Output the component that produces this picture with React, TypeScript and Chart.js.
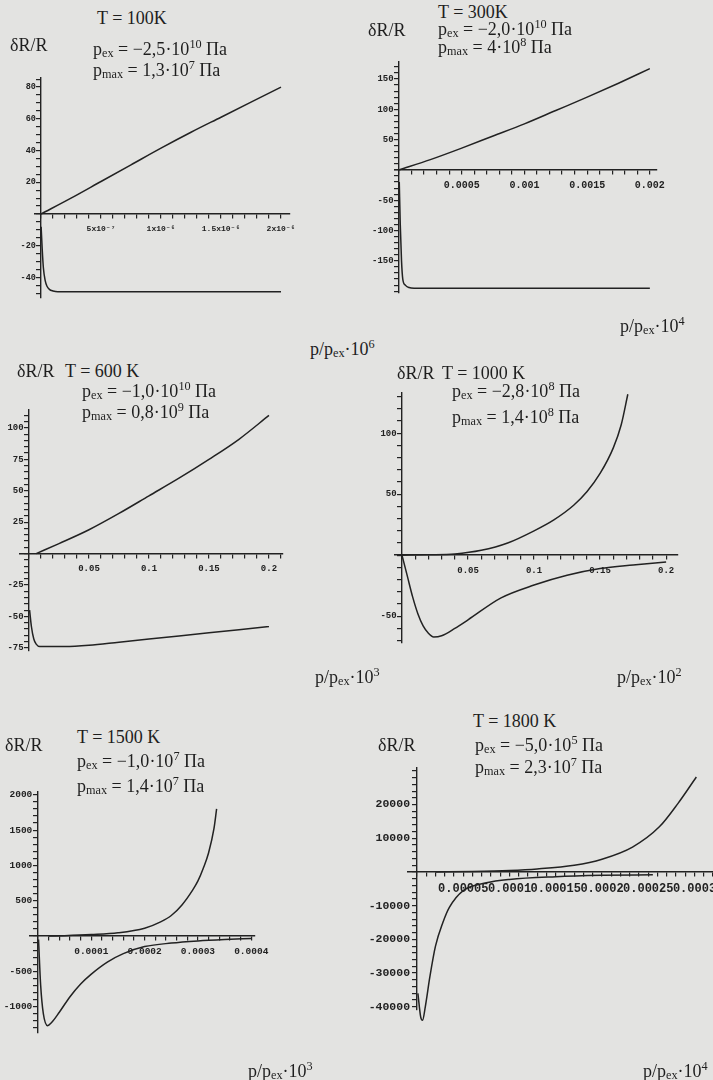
import React, { useEffect, useRef } from "react";
import { Chart, registerables } from "chart.js";

Chart.register(...registerables);

// ================= DATA =================
// Panel 1: T = 100 K
const p1UpperX = [0, 2.5e-7, 5e-7, 7.5e-7, 1e-6, 1.25e-6, 1.5e-6, 1.75e-6, 2e-6];
const p1UpperY = [0, 10, 20.5, 31, 41.5, 51.5, 61, 70.5, 80];
const p1LowerX = [1e-9, 1e-8, 2e-8, 3.5e-8, 5e-8, 7e-8, 1e-7, 1.4e-7, 5e-7, 1e-6, 1.5e-6, 2e-6];
const p1LowerY = [-8, -22, -34, -42, -45.5, -47.5, -48.5, -49, -49, -49, -49, -49];
const p1XTicks = [5e-7, 1e-6, 1.5e-6, 2e-6];
const p1XTickLabels = ["5x10⁻⁷", "1x10⁻⁶", "1.5x10⁻⁶", "2x10⁻⁶"];
const p1YTicks = [-40, -20, 20, 40, 60, 80];
const p1YTickLabels = ["-40", "-20", "20", "40", "60", "80"];

// Panel 2: T = 300 K
const p2UpperX = [0, 0.00025, 0.0005, 0.00075, 0.001, 0.00125, 0.0015, 0.00175, 0.002];
const p2UpperY = [0, 17, 36, 56, 76, 98, 120, 143, 167];
const p2LowerX = [2e-6, 1e-5, 2e-5, 3e-5, 5e-5, 8e-5, 0.00012, 0.0005, 0.001, 0.0015, 0.002];
const p2LowerY = [-20, -90, -150, -180, -190, -194, -195, -195, -195, -195, -195];
const p2XTicks = [0.0005, 0.001, 0.0015, 0.002];
const p2XTickLabels = ["0.0005", "0.001", "0.0015", "0.002"];
const p2YTicks = [-150, -100, -50, 50, 100, 150];
const p2YTickLabels = ["-150", "-100", "-50", "50", "100", "150"];

// Panel 3: T = 600 K
const p3UpperX = [0.006, 0.025, 0.05, 0.075, 0.1, 0.125, 0.15, 0.175, 0.2];
const p3UpperY = [0, 8, 19, 32, 46, 60, 75, 91, 110];
const p3LowerX = [0.0005, 0.002, 0.004, 0.006, 0.009, 0.015, 0.03, 0.05, 0.075, 0.1, 0.125, 0.15, 0.175, 0.2];
const p3LowerY = [-45, -58, -68, -72, -74, -74, -74, -73, -70.5, -68, -65.5, -63, -60.5, -58];
const p3XTicks = [0.05, 0.1, 0.15, 0.2];
const p3XTickLabels = ["0.05", "0.1", "0.15", "0.2"];
const p3YTicks = [-75, -50, -25, 25, 50, 75, 100];
const p3YTickLabels = ["-75", "-50", "-25", "25", "50", "75", "100"];

// Panel 4: T = 1000 K
const p4UpperX = [0, 0.02, 0.04, 0.06, 0.08, 0.1, 0.115, 0.13, 0.14, 0.15, 0.16, 0.166, 0.171];
const p4UpperY = [0, 0.3, 1, 4, 10, 20, 29, 41, 52, 67, 88, 107, 132];
const p4LowerX = [0, 0.004, 0.008, 0.012, 0.016, 0.02, 0.024, 0.03, 0.04, 0.05, 0.075, 0.1, 0.125, 0.15, 0.175, 0.2];
const p4LowerY = [0, -17, -34, -48, -58, -64, -67, -66, -60, -53, -35, -24.5, -16.5, -11, -8, -5.5];
const p4XTicks = [0.05, 0.1, 0.15, 0.2];
const p4XTickLabels = ["0.05", "0.1", "0.15", "0.2"];
const p4YTicks = [-50, 50, 100];
const p4YTickLabels = ["-50", "50", "100"];

// Panel 5: T = 1500 K
const p5UpperX = [0.00002, 0.00005, 0.0001, 0.00015, 0.0002, 0.00023, 0.00025, 0.00027, 0.00029, 0.0003, 0.00031, 0.00032, 0.00033, 0.000335];
const p5UpperY = [0, 5, 20, 45, 110, 200, 290, 440, 650, 780, 960, 1180, 1520, 1800];
const p5LowerX = [0.000001, 0.000005, 0.00001, 0.000018, 0.000025, 0.00004, 0.00006, 0.00008, 0.0001, 0.00013, 0.00016, 0.0002, 0.00025, 0.0003, 0.00035, 0.0004];
const p5LowerY = [-50, -700, -1100, -1270, -1230, -1080, -860, -680, -540, -370, -250, -150, -100, -70, -50, -35];
const p5XTicks = [0.0001, 0.0002, 0.0003, 0.0004];
const p5XTickLabels = ["0.0001", "0.0002", "0.0003", "0.0004"];
const p5YTicks = [-1000, -500, 500, 1000, 1500, 2000];
const p5YTickLabels = ["-1000", "-500", "500", "1000", "1500", "2000"];

// Panel 6: T = 1800 K
const p6UpperX = [0.00002, 0.00006, 0.0001, 0.00013, 0.00017, 0.0002, 0.000233, 0.000262, 0.000282, 0.000302];
const p6UpperY = [0, 150, 450, 900, 2000, 3800, 7400, 13400, 20300, 28200];
const p6LowerX = [0.000001, 0.000004, 0.000006, 0.000009, 0.000014, 0.00002, 0.000028, 0.000035, 0.00005, 0.000075, 0.0001, 0.00015, 0.0002, 0.000255];
const p6LowerY = [-36000, -43000, -44000, -40000, -31000, -22000, -15000, -10500, -5500, -3200, -2200, -1400, -1000, -800];
const p6XTicks = [0.00005, 0.0001, 0.00015, 0.0002, 0.00025, 0.0003];
const p6XTickLabels = ["0.00005", "0.0001", "0.00015", "0.0002", "0.00025", "0.0003"];
const p6YTicks = [-40000, -30000, -20000, -10000, 10000, 20000];
const p6YTickLabels = ["-40000", "-30000", "-20000", "-10000", "10000", "20000"];

// Panel captions
const temperatures = ["T = 100K", "T = 300K", "T = 600 K", "T = 1000 K", "T = 1500 K", "T = 1800 K"];
const pexMantissa = ["−2,5", "−2,0", "−1,0", "−2,8", "−1,0", "−5,0"];
const pexExponent = ["10", "10", "10", "8", "7", "5"];
const pmaxMantissa = ["1,3", "4", "0,8", "1,4", "1,4", "2,3"];
const pmaxExponent = ["7", "8", "9", "8", "7", "7"];
const xAxisExponent = ["6", "4", "3", "2", "3", "4"];
const yAxisTitle = "δR/R";

// ================= LAYOUT =================
const INK = "#222222";
const BG = "#e3e3e1";
const PAD = { left: 56, right: 24, top: 12, bottom: 30 };

type PanelCfg = {
  box: [number, number, number, number];
  xr: [number, number];
  yr: [number, number];
  xMinor: number;
  yMinor: number;
  xFont: number;
  yFont: number;
  upper: [number[], number[]];
  lower: [number[], number[]];
  xt: [number[], string[]];
  yt: [number[], string[]];
};

const panels: PanelCfg[] = [
  { box: [35, 78, 290, 298], xr: [-5e-8, 2.075e-6], yr: [-52.9, 85.7], xMinor: 1e-7, yMinor: 5, xFont: 8, yFont: 8.5,
    upper: [p1UpperX, p1UpperY], lower: [p1LowerX, p1LowerY], xt: [p1XTicks, p1XTickLabels], yt: [p1YTicks, p1YTickLabels] },
  { box: [395, 62, 657, 293], xr: [-3.2e-5, 0.002057], yr: [-203, 178], xMinor: 0.0001, yMinor: 10, xFont: 10, yFont: 9,
    upper: [p2UpperX, p2UpperY], lower: [p2LowerX, p2LowerY], xt: [p2XTicks, p2XTickLabels], yt: [p2YTicks, p2YTickLabels] },
  { box: [20, 410, 283, 651], xr: [-0.0075, 0.2117], yr: [-77.5, 114.3], xMinor: 0.01, yMinor: 5, xFont: 9, yFont: 9,
    upper: [p3UpperX, p3UpperY], lower: [p3LowerX, p3LowerY], xt: [p3XTicks, p3XTickLabels], yt: [p3YTicks, p3YTickLabels] },
  { box: [395, 393, 678, 643], xr: [-0.0053, 0.209], yr: [-72, 133], xMinor: 0.01, yMinor: 10, xFont: 9, yFont: 9,
    upper: [p4UpperX, p4UpperY], lower: [p4LowerX, p4LowerY], xt: [p4XTicks, p4XTickLabels], yt: [p4YTicks, p4YTickLabels] },
  { box: [30, 792, 255, 1033], xr: [-0.000015, 0.000407], yr: [-1374, 2040], xMinor: 0.00002, yMinor: 100, xFont: 9.5, yFont: 9.5,
    upper: [p5UpperX, p5UpperY], lower: [p5LowerX, p5LowerY], xt: [p5XTicks, p5XTickLabels], yt: [p5YTicks, p5YTickLabels] },
  { box: [408, 768, 713, 1010], xr: [-0.0000097, 0.00032], yr: [-40950, 30860], xMinor: 0.00001, yMinor: 2000, xFont: 12, yFont: 11.5,
    upper: [p6UpperX, p6UpperY], lower: [p6LowerX, p6LowerY], xt: [p6XTicks, p6XTickLabels], yt: [p6YTicks, p6YTickLabels] },
];

// caption positions: [left, top] of T line, δR/R, pex, pmax, axis-label
const captionPos = [
  { T: [97, 9], d: [10, 36], pex: [93, 40], pmax: [93, 61], ax: [310, 340] },
  { T: [438, 3], d: [368, 21], pex: [438, 20], pmax: [438, 38], ax: [620, 317] },
  { T: [65, 362], d: [17, 362], pex: [82, 382], pmax: [82, 403], ax: [315, 668] },
  { T: [442, 364], d: [397, 364], pex: [452, 382], pmax: [452, 408], ax: [617, 668] },
  { T: [77, 728], d: [5, 736], pex: [77, 752], pmax: [77, 777], ax: [248, 1062] },
  { T: [473, 712], d: [378, 736], pex: [475, 736], pmax: [475, 758], ax: [643, 1062] },
];

function makeTicks(min: number, max: number, step: number) {
  const out: { value: number }[] = [];
  const k0 = Math.ceil(min / step - 1e-9);
  const k1 = Math.floor(max / step + 1e-9);
  for (let k = k0; k <= k1; k++) out.push({ value: k * step });
  return out;
}

function labelFor(v: number, vals: number[], labels: string[], step: number) {
  const i = vals.findIndex((t) => Math.abs(t - v) < step * 0.01);
  return i >= 0 ? labels[i] : "";
}

function toPts(xs: number[], ys: number[]) {
  return xs.map((x, i) => ({ x, y: ys[i] }));
}

function PanelChart({ cfg }: { cfg: PanelCfg }) {
  const ref = useRef<HTMLCanvasElement>(null);
  const [l, t, r, b] = cfg.box;
  const w = r - l + PAD.left + PAD.right;
  const h = b - t + PAD.top + PAD.bottom;
  useEffect(() => {
    const tickFont = (size: number) => ({ family: "'Liberation Mono', 'DejaVu Sans Mono', monospace", size, weight: "bold" as const });
    const line = { display: true, color: INK, width: 1.4 };
    const grid = { display: true, drawOnChartArea: false, drawTicks: true, tickLength: 4, color: INK, lineWidth: 1.2, tickColor: INK, tickWidth: 1.2 };
    const chart = new Chart(ref.current as HTMLCanvasElement, {
      type: "scatter",
      data: {
        datasets: [
          { data: toPts(cfg.upper[0], cfg.upper[1]), showLine: true, borderColor: INK, borderWidth: 1.5, pointRadius: 0, cubicInterpolationMode: "monotone", clip: false } as any,
          { data: toPts(cfg.lower[0], cfg.lower[1]), showLine: true, borderColor: INK, borderWidth: 1.5, pointRadius: 0, cubicInterpolationMode: "monotone", clip: false } as any,
        ],
      },
      options: {
        responsive: false,
        animation: false,
        devicePixelRatio: 1,
        layout: { padding: PAD },
        plugins: { legend: { display: false }, tooltip: { enabled: false }, title: { display: false } },
        scales: {
          x: {
            type: "linear",
            position: { y: 0 } as any,
            min: cfg.xr[0],
            max: cfg.xr[1],
            bounds: "data",
            afterFit: (s: any) => { s.height = 0; },
            afterBuildTicks: (s: any) => { s.ticks = makeTicks(cfg.xr[0], cfg.xr[1], cfg.xMinor); },
            ticks: {
              autoSkip: false, maxRotation: 0, minRotation: 0, padding: 6, color: INK, font: tickFont(cfg.xFont),
              callback: (v: any) => labelFor(Number(v), cfg.xt[0], cfg.xt[1], cfg.xMinor),
            },
            grid,
            border: line,
          } as any,
          y: {
            type: "linear",
            position: { x: 0 } as any,
            min: cfg.yr[0],
            max: cfg.yr[1],
            bounds: "data",
            afterFit: (s: any) => { s.width = 0; },
            afterBuildTicks: (s: any) => { s.ticks = makeTicks(cfg.yr[0], cfg.yr[1], cfg.yMinor); },
            ticks: {
              autoSkip: false, padding: 2, color: INK, font: tickFont(cfg.yFont),
              callback: (v: any) => {
                const s = labelFor(Number(v), cfg.yt[0], cfg.yt[1], cfg.yMinor);
                return s ? s + " " : "";
              },
            },
            grid,
            border: line,
          } as any,
        },
      },
    });
    return () => chart.destroy();
  }, [cfg]);
  return (
    <canvas
      ref={ref}
      width={w}
      height={h}
      style={{ position: "absolute", left: l - PAD.left, top: t - PAD.top, width: w, height: h }}
    />
  );
}

const textStyle: React.CSSProperties = {
  position: "absolute",
  fontFamily: "'Liberation Serif', 'Times New Roman', serif",
  fontSize: 18,
  lineHeight: "18px",
  color: "#1e1e1e",
  whiteSpace: "nowrap",
};
const subStyle: React.CSSProperties = { fontSize: "0.68em", verticalAlign: "-0.2em", lineHeight: 0 };
const supStyle: React.CSSProperties = { fontSize: "0.68em", verticalAlign: "0.55em", lineHeight: 0 };

function Captions({ i }: { i: number }) {
  const c = captionPos[i];
  return (
    <>
      <div style={{ ...textStyle, left: c.T[0], top: c.T[1] }}>{temperatures[i]}</div>
      <div style={{ ...textStyle, left: c.d[0], top: c.d[1] }}>{yAxisTitle}</div>
      <div style={{ ...textStyle, left: c.pex[0], top: c.pex[1] }}>
        p<span style={subStyle}>ex</span> = {pexMantissa[i]}·10<span style={supStyle}>{pexExponent[i]}</span> Па
      </div>
      <div style={{ ...textStyle, left: c.pmax[0], top: c.pmax[1] }}>
        p<span style={subStyle}>max</span> = {pmaxMantissa[i]}·10<span style={supStyle}>{pmaxExponent[i]}</span> Па
      </div>
      <div style={{ ...textStyle, left: c.ax[0], top: c.ax[1] }}>
        p/p<span style={subStyle}>ex</span>·10<span style={supStyle}>{xAxisExponent[i]}</span>
      </div>
    </>
  );
}

export default function App() {
  return (
    <div style={{ position: "absolute", left: 0, top: 0, width: 713, height: 1080, background: BG, overflow: "hidden" }}>
      {panels.map((p, i) => (
        <PanelChart key={"c" + i} cfg={p} />
      ))}
      {panels.map((_, i) => (
        <Captions key={"t" + i} i={i} />
      ))}
    </div>
  );
}
